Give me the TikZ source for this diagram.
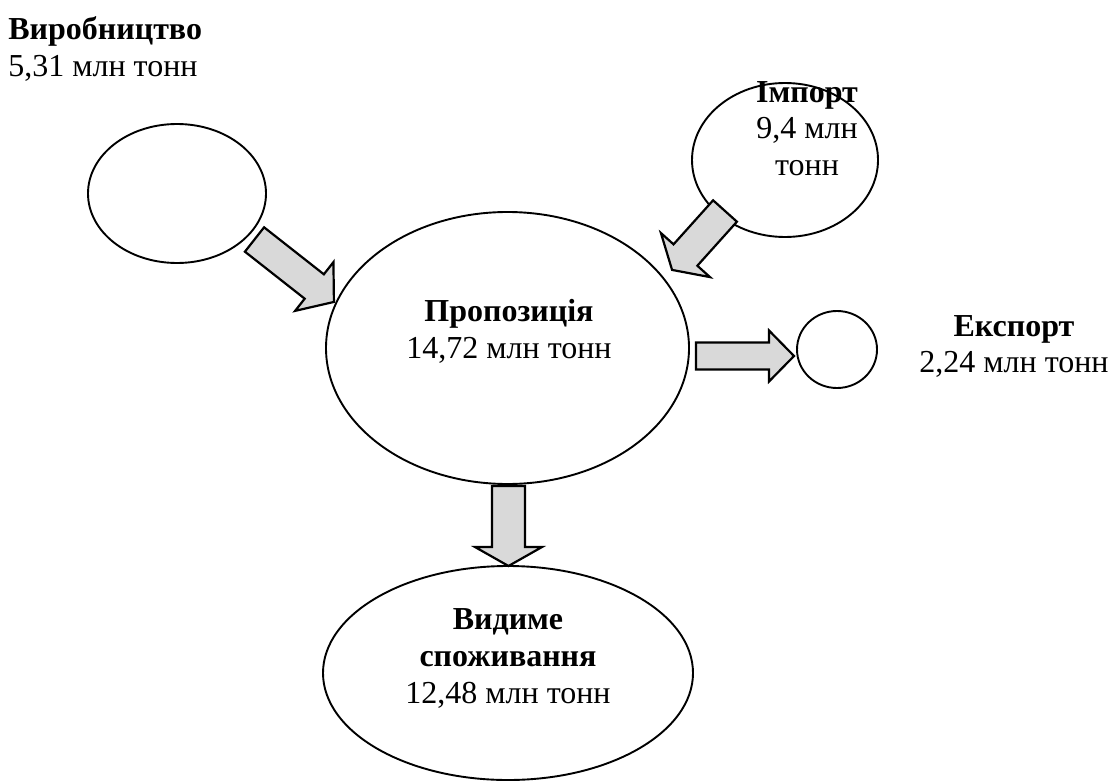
\documentclass[tikz,border=0pt]{standalone}
\usepackage{fontspec}
\setmainfont{Liberation Serif}
\usetikzlibrary{shapes.geometric,calc}

\tikzset{
  blob/.style={draw, ellipse, line width=0.95pt, inner sep=0pt},
  caption/.style={align=center, inner sep=0pt, font=\fontsize{16}{18.4}\selectfont},
  flowarrow/.style={draw=black, fill=black!15, line width=1.1pt, line join=miter},
}

% Block arrow from #1 (tail) to #2 (tip): shaft width #3, head width #4, head length #5 (in px units)
\newcommand\blockarrow[5]{%
  \filldraw[flowarrow] let \p1=($(#2)-(#1)$), \n1={atan2(\y1,\x1)}, \n2={veclen(\x1,\y1)} in
    {[shift={(#1)}, rotate=\n1]
    (0pt,{0.25pt*#3}) -- ({\n2-0.5pt*#5},{0.25pt*#3}) -- ({\n2-0.5pt*#5},{0.25pt*#4})
    -- (\n2,0pt) -- ({\n2-0.5pt*#5},{-0.25pt*#4}) -- ({\n2-0.5pt*#5},{-0.25pt*#3})
    -- (0pt,{-0.25pt*#3}) -- cycle};}

\begin{document}
\begin{tikzpicture}[x=0.5pt, y=-0.5pt]
  \useasboundingbox (0,0) rectangle (1112,781);

  % stock and flow ellipses
  \node[blob, minimum width=89pt,   minimum height=69.5pt] (prod) at (177,193.5) {};
  \node[blob, minimum width=93pt,   minimum height=77pt]   (imp)  at (785,160) {};
  \node[blob, minimum width=181.5pt,minimum height=136pt]  (prop) at (507.5,348) {};
  \node[blob, minimum width=40pt,   minimum height=38.5pt] (exp)  at (837,349.5) {};
  \node[blob, minimum width=185pt,  minimum height=107pt]  (cons) at (508,673) {};

  % labels
  \node[caption, align=left, anchor=west] (prodtext) at (8,49) {\textbf{Виробництво}\\5,31 млн тонн};
  \node[caption] (imptext)  at (807,128.5) {\textbf{Імпорт}\\9,4 млн\\тонн};
  \node[caption] (proptext) at (509,331) {\textbf{Пропозиція}\\14,72 млн тонн};
  \node[caption] (exptext)  at (1014,346.5) {\textbf{Експорт}\\2,24 млн тонн};
  \node[caption] (constext) at (508,658.5) {\textbf{Видиме}\\\textbf{споживання}\\12,48 млн тонн};

  % arrow end points
  \coordinate (a1s) at (254.5,239.5); \coordinate (a1e) at (334,302);
  \coordinate (a2s) at (725,211);     \coordinate (a2e) at (672,270);
  \coordinate (a3s) at (696,356);     \coordinate (a3e) at (794,356);
  \coordinate (a4s) at (508.5,486);   \coordinate (a4e) at (508.5,566);

  \blockarrow{a1s}{a1e}{31}{62}{25}
  \blockarrow{a2s}{a2e}{32}{66}{20}
  \blockarrow{a3s}{a3e}{27}{51}{25}
  \blockarrow{a4s}{a4e}{33}{67}{19}
\end{tikzpicture}
\end{document}
